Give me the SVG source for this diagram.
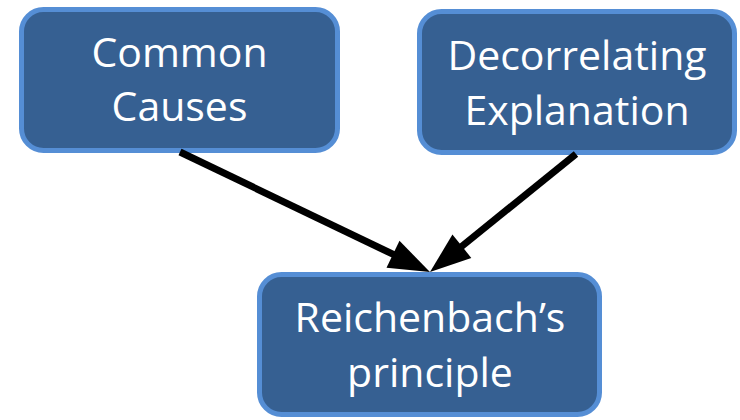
<svg xmlns="http://www.w3.org/2000/svg" width="740" height="420" viewBox="0 0 740 420">
  <style>
    .box { fill: #366092; stroke: #558ED5; stroke-width: 5; }
    .lbl { fill: #ffffff; font-family: "Open Sans", "Noto Sans", "Liberation Sans", sans-serif; font-size: 41px; text-anchor: middle; font-variant-ligatures: none; }
    .conn { stroke: #000000; stroke-width: 7; fill: none; }
  </style>
  <defs>
    <marker id="arrow" markerUnits="userSpaceOnUse" markerWidth="44" markerHeight="34" refX="1" refY="16" orient="auto" viewBox="0 0 44 34" overflow="visible">
      <path d="M0,1 L41,16 L0,31 z" fill="#000000"/>
    </marker>
  </defs>
  <rect width="740" height="420" fill="#ffffff"/>
  <g id="node-common-causes">
    <rect class="box" x="21.5" y="9.5" width="316" height="141" rx="22"/>
    <text class="lbl" x="179.5" y="67">Common</text>
    <text class="lbl" x="179.5" y="121">Causes</text>
  </g>
  <g id="node-decorrelating">
    <rect class="box" x="419.5" y="11.5" width="315" height="141" rx="22"/>
    <text class="lbl" x="577" y="70">Decorrelating</text>
    <text class="lbl" x="577" y="125">Explanation</text>
  </g>
  <g id="node-reichenbach">
    <rect class="box" x="259.5" y="274.5" width="340" height="140" rx="22"/>
    <text class="lbl" x="430" y="332">Reichenbach’s</text>
    <text class="lbl" x="430" y="387">principle</text>
  </g>
  <g id="connectors">
    <line class="conn" x1="180" y1="152" x2="393.9" y2="254.7" marker-end="url(#arrow)"/>
    <line class="conn" x1="576" y1="154" x2="461.1" y2="246.9" marker-end="url(#arrow)"/>
  </g>
</svg>
